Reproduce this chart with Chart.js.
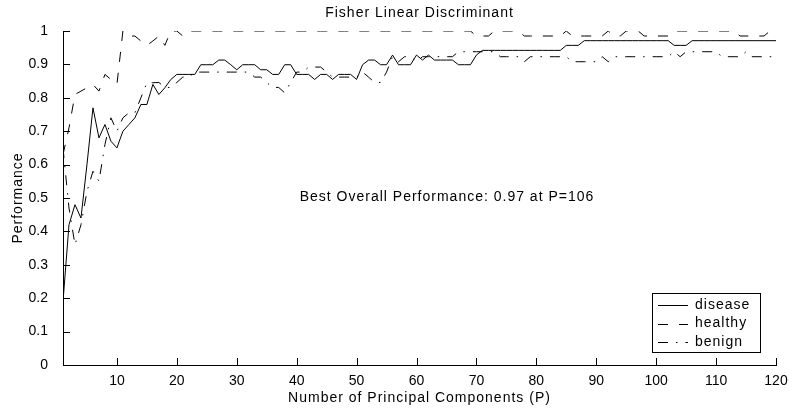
<!DOCTYPE html>
<html>
<head>
<meta charset="utf-8">
<title>Fisher Linear Discriminant</title>
<script src="https://cdn.jsdelivr.net/npm/chart.js@4.4.1/dist/chart.umd.min.js"></script>
<style>
  html, body { margin: 0; padding: 0; background: #fff; }
  canvas { display: block; }
</style>
</head>
<body>
<canvas id="chart" width="793" height="416"></canvas>
<script>
// number of principal components kept (P = 1..120)
const components = Array.from({ length: 120 }, (_, i) => i + 1);

const disease = [
  0.19, 0.42, 0.48, 0.44, 0.60, 0.77, 0.68, 0.72, 0.67, 0.65,
  0.70, 0.72, 0.74, 0.78, 0.78, 0.84, 0.81, 0.83, 0.855, 0.87,
  0.87, 0.87, 0.87, 0.899, 0.899, 0.899, 0.913, 0.913, 0.899, 0.884,
  0.899, 0.899, 0.899, 0.884, 0.884, 0.87, 0.87, 0.899, 0.899, 0.87,
  0.87, 0.87, 0.855, 0.87, 0.87, 0.855, 0.87, 0.87, 0.87, 0.855,
  0.899, 0.913, 0.913, 0.899, 0.899, 0.928, 0.899, 0.899, 0.899, 0.928,
  0.913, 0.928, 0.913, 0.913, 0.913, 0.913, 0.899, 0.899, 0.899, 0.928,
  0.942, 0.942, 0.942, 0.942, 0.942, 0.942, 0.942, 0.942, 0.942, 0.942,
  0.942, 0.942, 0.942, 0.942, 0.957, 0.957, 0.957, 0.971, 0.971, 0.971,
  0.971, 0.971, 0.971, 0.971, 0.971, 0.971, 0.971, 0.971, 0.971, 0.971,
  0.971, 0.971, 0.957, 0.957, 0.957, 0.971, 0.971, 0.971, 0.971, 0.971,
  0.971, 0.971, 0.971, 0.971, 0.971, 0.971, 0.971, 0.971, 0.971, 0.971
];

const healthy = [
  0.63, 0.71, 0.81, 0.82, 0.83, 0.84, 0.82, 0.87, 0.855, 0.84,
  1.0, 0.985, 0.985, 0.97, 0.957, 0.97, 0.985, 0.957, 1.0, 1.0,
  0.985, 1.0, 1.0, 1.0, 1.0, 1.0, 1.0, 1.0, 1.0, 1.0,
  1.0, 1.0, 1.0, 1.0, 1.0, 1.0, 1.0, 1.0, 1.0, 1.0,
  1.0, 1.0, 1.0, 1.0, 1.0, 1.0, 1.0, 1.0, 1.0, 1.0,
  1.0, 1.0, 1.0, 1.0, 1.0, 1.0, 1.0, 1.0, 1.0, 1.0,
  1.0, 1.0, 1.0, 1.0, 1.0, 1.0, 1.0, 1.0, 1.0, 0.985,
  0.985, 0.985, 1.0, 1.0, 1.0, 1.0, 1.0, 0.985, 0.985, 0.985,
  0.985, 0.985, 0.985, 0.985, 1.0, 0.985, 0.985, 0.985, 0.985, 0.985,
  0.985, 1.0, 0.985, 0.985, 1.0, 1.0, 1.0, 0.985, 0.985, 0.985,
  0.985, 0.985, 1.0, 1.0, 1.0, 1.0, 1.0, 1.0, 1.0, 1.0,
  1.0, 1.0, 1.0, 0.985, 0.985, 0.985, 0.985, 0.985, 1.0, 1.0
];

const benign = [
  0.65, 0.47, 0.36, 0.42, 0.52, 0.58, 0.55, 0.66, 0.74, 0.70,
  0.74, 0.755, 0.755, 0.80, 0.845, 0.845, 0.846, 0.831, 0.831, 0.846,
  0.862, 0.862, 0.877, 0.877, 0.877, 0.877, 0.877, 0.877, 0.877, 0.877,
  0.877, 0.877, 0.862, 0.862, 0.846, 0.831, 0.831, 0.815, 0.846, 0.877,
  0.877, 0.892, 0.892, 0.892, 0.877, 0.862, 0.862, 0.862, 0.862, 0.862,
  0.877, 0.862, 0.846, 0.846, 0.877, 0.923, 0.908, 0.923, 0.923, 0.908,
  0.923, 0.923, 0.923, 0.923, 0.923, 0.923, 0.938, 0.938, 0.938, 0.938,
  0.938, 0.938, 0.938, 0.923, 0.923, 0.923, 0.923, 0.908, 0.923, 0.923,
  0.923, 0.923, 0.923, 0.923, 0.923, 0.908, 0.908, 0.908, 0.908, 0.908,
  0.923, 0.908, 0.923, 0.923, 0.923, 0.923, 0.923, 0.923, 0.923, 0.923,
  0.923, 0.923, 0.938, 0.923, 0.938, 0.938, 0.938, 0.938, 0.938, 0.938,
  0.923, 0.923, 0.923, 0.923, 0.938, 0.923, 0.923, 0.923, 0.923, 0.923
];

const xTicks = [10, 20, 30, 40, 50, 60, 70, 80, 90, 100, 110, 120];
const yTicks = [0, 0.1, 0.2, 0.3, 0.4, 0.5, 0.6, 0.7, 0.8, 0.9, 1];

const bestP = 106;
const bestScore = 0.97;

const FONT = "Helvetica, Arial, 'Liberation Sans', sans-serif";
const TEXT = "14px " + FONT;

const toPoints = (vals) => vals.map((v, i) => ({ x: components[i], y: v }));

// matlab-ish axes: ticks point inward, titles, note and legend drawn by hand
const axesExtras = {
  id: "axesExtras",
  afterDraw(chart) {
    const { ctx, chartArea: a, scales } = chart;
    const xs = scales.x, ys = scales.y;
    ctx.save();
    ctx.strokeStyle = "#000";
    ctx.lineWidth = 1;
    ctx.beginPath();
    for (const t of xTicks) {
      const px = Math.round(xs.getPixelForValue(t)) + 0.5;
      ctx.moveTo(px, a.bottom);
      ctx.lineTo(px, a.bottom - 7);
    }
    for (const t of yTicks) {
      const py = Math.round(ys.getPixelForValue(t)) + 0.5;
      ctx.moveTo(a.left, py);
      ctx.lineTo(a.left + 7, py);
    }
    ctx.stroke();

    ctx.fillStyle = "#000";
    ctx.font = TEXT;
    ctx.letterSpacing = "1px";
    ctx.textAlign = "center";
    ctx.textBaseline = "middle";
    const cx = (a.left + a.right) / 2;
    ctx.fillText("Fisher Linear Discriminant", cx, 13);
    ctx.fillText("Number of Principal Components (P)", cx, 398);

    ctx.save();
    ctx.translate(18, (a.top + a.bottom) / 2);
    ctx.rotate(-Math.PI / 2);
    ctx.fillText("Performance", 0, 0);
    ctx.restore();

    ctx.textAlign = "left";
    ctx.fillText(
      "Best Overall Performance: " + bestScore.toFixed(2) + " at P=" + bestP,
      xs.getPixelForValue(40.5),
      ys.getPixelForValue(0.503)
    );

    // legend box, lower right
    const box = { left: 652, top: 293, right: 760, bottom: 352 };
    ctx.fillStyle = "#fff";
    ctx.fillRect(box.left, box.top, box.right - box.left, box.bottom - box.top);
    ctx.strokeRect(box.left + 0.5, box.top + 0.5, box.right - box.left, box.bottom - box.top);
    chart.data.datasets.forEach((ds, i) => {
      const y = box.top + 12 + i * 18.5;
      ctx.beginPath();
      ctx.setLineDash(ds.borderDash || []);
      ctx.moveTo(box.left + 6, Math.round(y) + 0.5);
      ctx.lineTo(box.left + 36, Math.round(y) + 0.5);
      ctx.stroke();
      ctx.setLineDash([]);
      ctx.fillStyle = "#000";
      ctx.fillText(ds.label, box.left + 43, y);
    });
    ctx.restore();
  }
};

new Chart(document.getElementById("chart"), {
  type: "line",
  data: {
    datasets: [
      { label: "disease", data: toPoints(disease), borderColor: "#000", borderWidth: 1 },
      { label: "healthy", data: toPoints(healthy), borderColor: "#000", borderWidth: 1, borderDash: [10, 11] },
      { label: "benign", data: toPoints(benign), borderColor: "#000", borderWidth: 1, borderDash: [10, 8, 1.5, 8] }
    ]
  },
  options: {
    responsive: false,
    devicePixelRatio: 1,
    animation: false,
    layout: { padding: { top: 31, right: 17, left: 0, bottom: 0 } },
    elements: { point: { radius: 0 }, line: { tension: 0 } },
    plugins: { legend: { display: false }, tooltip: { enabled: false } },
    scales: {
      x: {
        type: "linear",
        min: 1,
        max: 120,
        grid: { display: false },
        border: { display: true, color: "#000", width: 1 },
        afterBuildTicks: (s) => { s.ticks = xTicks.map((v) => ({ value: v })); },
        afterFit: (s) => { s.height = 51; },
        ticks: { color: "#000", font: { family: FONT, size: 14 }, padding: 0, maxRotation: 0 }
      },
      y: {
        min: 0,
        max: 1,
        grid: { display: false },
        border: { display: true, color: "#000", width: 1 },
        afterBuildTicks: (s) => { s.ticks = yTicks.map((v) => ({ value: v })); },
        afterFit: (s) => { s.width = 63; },
        ticks: {
          color: "#000",
          font: { family: FONT, size: 14 },
          padding: 7,
          callback: (v) => String(+v.toFixed(1))
        }
      }
    }
  },
  plugins: [axesExtras]
});
</script>
</body>
</html>
